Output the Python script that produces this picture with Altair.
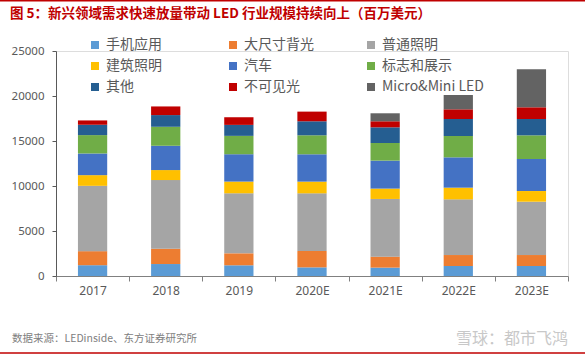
import altair as alt
import pandas as pd

years = ["2017", "2018", "2019", "2020E", "2021E", "2022E", "2023E"]
series = ["手机应用", "大尺寸背光", "普通照明", "建筑照明", "汽车", "标志和展示", "其他", "不可见光", "Micro&Mini LED"]
colors = ["#5B9BD5", "#ED7D31", "#A5A5A5", "#FFC000", "#4472C4", "#70AD47", "#255E91", "#C00000", "#636363"]

phone = [1200, 1330, 1190, 960, 930, 1110, 1110]
large_backlight = [1560, 1700, 1330, 1815, 1220, 1220, 1220]
general_lighting = [7260, 7630, 6670, 6410, 6410, 6185, 5925]
architectural = [1185, 1110, 1300, 1300, 1150, 1300, 1185]
automotive = [2410, 2700, 3040, 3040, 3110, 3370, 3560]
signage = [2040, 2110, 2040, 2110, 1960, 2370, 2630]
other = [1150, 1300, 1220, 1555, 1740, 1890, 1815]
invisible = [480, 960, 850, 1075, 670, 1075, 1300]
micro_mini = [0, 0, 0, 0, 890, 1590, 4220]

y_ticks = [0, 5000, 10000, 15000, 20000, 25000]

title_text = "图 5：新兴领域需求快速放量带动 LED 行业规模持续向上（百万美元）"
source_text = "数据来源：LEDinside、东方证券研究所"
watermark_text = "雪球：都市飞鸿"

all_values = [phone, large_backlight, general_lighting, architectural, automotive,
              signage, other, invisible, micro_mini]
rows = []
for si, (name, vals) in enumerate(zip(series, all_values)):
    for yr, v in zip(years, vals):
        if v > 0:
            rows.append({"year": yr, "series": name, "value": v, "idx": si})
df = pd.DataFrame(rows)

CJK = "Noto Sans CJK SC"

bars = alt.Chart(df).mark_bar(width=alt.RelativeBandSize(0.4)).encode(
    x=alt.X("year:N", sort=years,
            scale=alt.Scale(paddingInner=0, paddingOuter=0),
            axis=alt.Axis(title=None, labelAngle=0, tickBand="extent", tickSize=5,
                          labelPadding=4, labelFontSize=12, labelFont="Noto Sans",
                          labelColor="#595959", domainColor="#808080", tickColor="#808080")),
    y=alt.Y("value:Q", stack="zero",
            scale=alt.Scale(domain=[0, 25000], nice=False),
            axis=alt.Axis(title=None, values=y_ticks, format="d", grid=False, tickSize=4,
                          labelPadding=8, labelFontSize=11.5, labelFont="Noto Sans",
                          labelColor="#595959", domainColor="#595959", tickColor="#595959")),
    color=alt.Color("series:N", sort=series,
                    scale=alt.Scale(domain=series, range=colors),
                    legend=alt.Legend(title=None, orient="none", legendX=32, legendY=-13,
                                      direction="horizontal",
                                      columns=3, gridAlign="all", columnPadding=18,
                                      rowPadding=7, symbolType="square", symbolSize=64,
                                      symbolStrokeWidth=0, labelFont=CJK, labelFontSize=14,
                                      labelColor="#595959", labelOffset=4, padding=0,
                                      labelLimit=200)),
    order=alt.Order("idx:Q", sort="ascending"),
)

title = alt.Chart(pd.DataFrame({"t": [title_text]})).mark_text(
    align="left", baseline="middle", font=CJK, fontSize=13.5, fontWeight="bold", color="#C00000"
).encode(x=alt.value(-46), y=alt.value(-37), text="t:N")

source = alt.Chart(pd.DataFrame({"t": [source_text]})).mark_text(
    align="left", baseline="middle", font=CJK, fontSize=10.5, color="#808080"
).encode(x=alt.value(-44), y=alt.value(288), text="t:N")

watermark = alt.Chart(pd.DataFrame({"t": [watermark_text]})).mark_text(
    align="right", baseline="middle", font=CJK, fontSize=16, color="#C8C8C8"
).encode(x=alt.value(512), y=alt.value(288), text="t:N")

top_line = alt.Chart(pd.DataFrame({"a": [0]})).mark_rule(color="#C00000", strokeWidth=1.5).encode(
    x=alt.value(-56), x2=alt.value(529), y=alt.value(-50.3))
bottom_line = alt.Chart(pd.DataFrame({"a": [0]})).mark_rule(color="#C00000", strokeWidth=1.5).encode(
    x=alt.value(-56), x2=alt.value(529), y=alt.value(302))

chart = alt.layer(bars, title, source, watermark, top_line, bottom_line).properties(
    width=512, height=225,
    autosize=alt.AutoSizeParams(type="none"),
    padding={"left": 56, "top": 51, "right": 17, "bottom": 81},
).configure_view(stroke=None).configure(background="white")

chart.save("out.html", embed_options={"renderer": "svg", "actions": False})
